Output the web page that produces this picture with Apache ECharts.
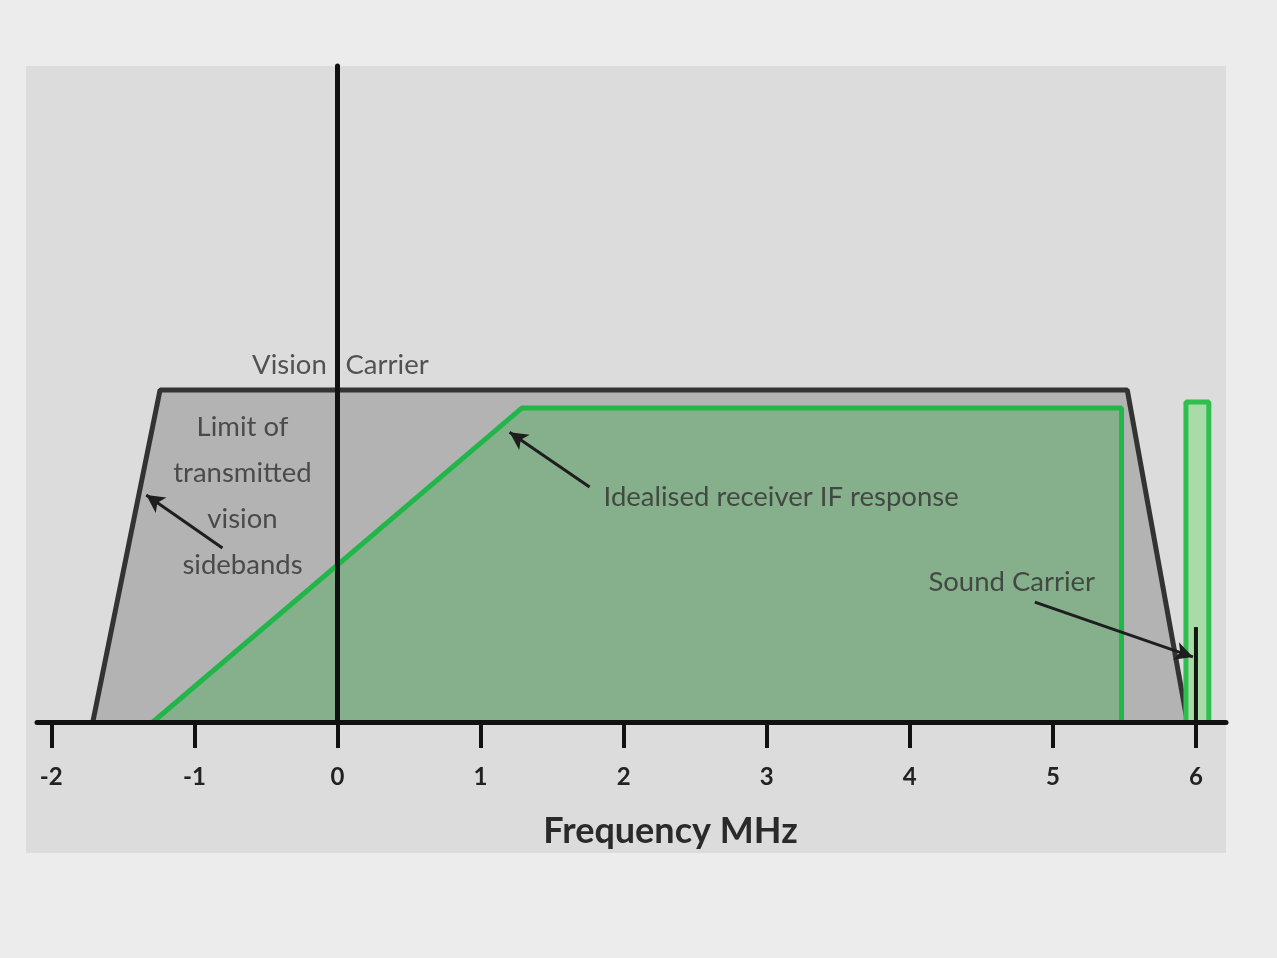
<!DOCTYPE html>
<html><head><meta charset="utf-8">
<script src="https://cdn.jsdelivr.net/npm/echarts@6/dist/echarts.min.js"></script>
<style>html,body{margin:0;padding:0;background:#ececec;}#c{width:1277px;height:958px;}</style>
</head><body><div id="c"></div>
<script>
// ---- data ----
const freqTicks = [-2, -1, 0, 1, 2, 3, 4, 5, 6];
const tickLabels = ['-2', '-1', '0', '1', '2', '3', '4', '5', '6'];
const transmittedBand = [[-1.71, 0], [-1.24, 100], [5.52, 100], [5.94, 0]];
const ifResponse = [[-1.29, 0], [1.29, 94.6], [5.48, 94.6], [5.48, 0]];
const soundBox = [[5.93, 0], [5.93, 96.4], [6.09, 96.4], [6.09, 0]];
const soundCarrier = [[6, 0], [6, 28.6]];
const textNotes = [
  {text: 'Vision', at: [-0.075, 107.5], align: 'right'},
  {text: 'Carrier', at: [0.056, 107.5], align: 'left'},
  {text: 'Limit of\ntransmitted\nvision\nsidebands', at: [-0.664, 68], align: 'center'},
  {text: 'Idealised receiver IF response', at: [1.86, 67.8], align: 'left'},
  {text: 'Sound Carrier', at: [4.13, 42.2], align: 'left'}
];
const arrows = [
  [[-0.804, 52.4], [-1.336, 68.4]],
  [[1.762, 70.8], [1.203, 87.3]],
  [[4.874, 36.1], [5.979, 19.6]]
];

const chart = echarts.init(document.getElementById('c'));
const FONT = 'Lato, "Open Sans", sans-serif';
chart.setOption({
  backgroundColor: '#ececec',
  animation: false,
  graphic: [{type: 'rect', z: -10, shape: {x: 26, y: 66, width: 1200, height: 787}, style: {fill: '#dcdcdc'}}],
  grid: {left: 37, right: 51, top: 66, bottom: 236},
  xAxis: {
    type: 'value', min: -2.1, max: 6.21, z: 5,
    name: 'Frequency MHz', nameLocation: 'middle', nameGap: 91,
    nameTextStyle: {fontFamily: FONT, fontWeight: 'bold', fontSize: 36, color: '#2a2a2a', padding: [0, 0, 0, 78]},
    axisLine: {show: true, onZero: false, lineStyle: {color: '#111', width: 5}},
    axisTick: {show: true, length: 26, customValues: freqTicks, lineStyle: {color: '#111', width: 4}},
    axisLabel: {show: true, margin: 43, customValues: freqTicks,
      formatter: v => tickLabels[freqTicks.indexOf(Math.round(v))],
      fontFamily: FONT, fontWeight: 'bold', fontSize: 24, color: '#222'},
    splitLine: {show: false}
  },
  yAxis: {
    type: 'value', min: 0, max: 197.6, z: 5,
    axisLine: {show: true, onZero: true, lineStyle: {color: '#111', width: 5}},
    axisTick: {show: false}, axisLabel: {show: false}, splitLine: {show: false}
  },
  series: [
    {type: 'line', data: transmittedBand, showSymbol: false, silent: true, z: 1,
      lineStyle: {color: '#333', width: 5}, areaStyle: {color: '#b3b3b3', opacity: 1}},
    {type: 'line', data: ifResponse, showSymbol: false, silent: true, z: 2,
      lineStyle: {color: '#22b64a', width: 5}, areaStyle: {color: '#86b08c', opacity: 1},
      markLine: {silent: true, symbol: ['none', 'arrow'], symbolSize: [14, 18],
        lineStyle: {color: '#1e1e1e', width: 3, type: 'solid'}, label: {show: false},
        data: arrows.map(a => [{coord: a[0]}, {coord: a[1]}])}},
    {type: 'line', data: soundBox, showSymbol: false, silent: true, z: 3,
      lineStyle: {color: '#2fbf4e', width: 5}, areaStyle: {color: '#a8dba8', opacity: 1}},
    {type: 'line', data: soundCarrier, showSymbol: false, silent: true, z: 4,
      lineStyle: {color: '#0e1a0e', width: 4}},
    {type: 'scatter', silent: true, z: 6, symbolSize: 1, itemStyle: {color: 'rgba(0,0,0,0)'},
      data: textNotes.map(n => ({value: n.at, label: {align: n.align}, name: n.text})),
      label: {show: true, position: 'inside', formatter: p => p.name, verticalAlign: 'middle',
        fontFamily: FONT, fontSize: 27.5, lineHeight: 46, color: '#303030'}}
  ]
});
</script></body></html>
